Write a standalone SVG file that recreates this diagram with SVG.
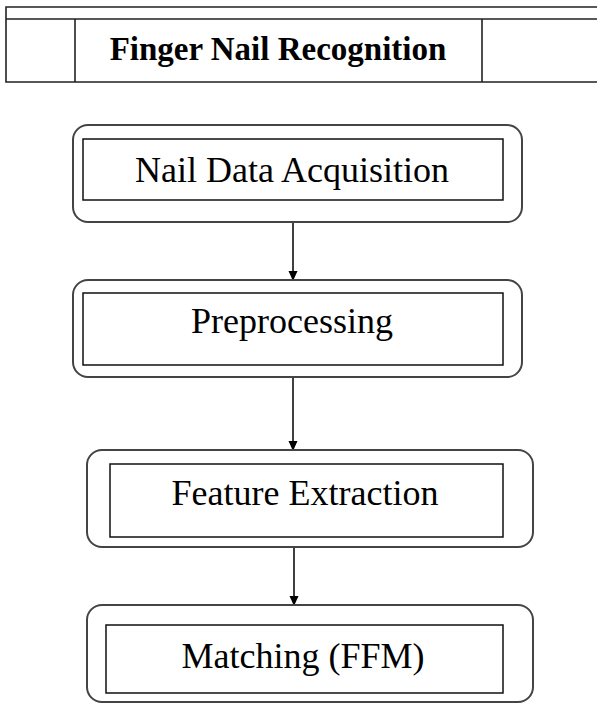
<svg xmlns="http://www.w3.org/2000/svg" width="597" height="704" viewBox="0 0 597 704">
<style>
.tbl{fill:none;stroke:#222;stroke-width:1.6}
.outer{fill:#fff;stroke:#444;stroke-width:2}
.inner{fill:#fff;stroke:#111;stroke-width:1.5}
.lbl{font-family:"Liberation Serif","Times New Roman",serif;font-size:36px;fill:#000;text-anchor:middle}
.title{font-family:"Liberation Serif","Times New Roman",serif;font-size:33px;font-weight:bold;fill:#000;text-anchor:middle}
.conn{stroke:#000;stroke-width:1.5;fill:none;marker-end:url(#arr)}
</style>
<defs>
<marker id="arr" markerWidth="10" markerHeight="10" refX="9" refY="4.5" orient="auto" markerUnits="userSpaceOnUse">
<path d="M0,0 L10,4.5 L0,9 Z" fill="#000"/>
</marker>
</defs>
<rect width="597" height="704" fill="#fff"/>
<g id="header">
<path class="tbl" d="M600,7 H6 V82 H600 M6,19 H600 M75,19 V82 M482,19 V82"/>
<text class="title" x="278" y="60">Finger Nail Recognition</text>
</g>
<g id="connectors">
<line class="conn" x1="293" y1="222" x2="293" y2="280"/>
<line class="conn" x1="293" y1="377" x2="293" y2="450"/>
<line class="conn" x1="294" y1="547" x2="294" y2="605"/>
</g>
<g id="n1">
<rect class="outer" x="73" y="125" width="449" height="97" rx="15"/>
<rect class="inner" x="83" y="139" width="420" height="61"/>
<text class="lbl" x="292" y="182">Nail Data Acquisition</text>
</g>
<g id="n2">
<rect class="outer" x="73" y="280" width="449" height="97" rx="15"/>
<rect class="inner" x="83" y="293" width="420" height="72"/>
<text class="lbl" x="292" y="333">Preprocessing</text>
</g>
<g id="n3">
<rect class="outer" x="87" y="450" width="446" height="97" rx="15"/>
<rect class="inner" x="110" y="464" width="393" height="73"/>
<text class="lbl" x="305" y="505">Feature Extraction</text>
</g>
<g id="n4">
<rect class="outer" x="87" y="605" width="446" height="97" rx="15"/>
<rect class="inner" x="106" y="625" width="397" height="68"/>
<text class="lbl" x="303" y="668">Matching (FFM)</text>
</g>
</svg>
